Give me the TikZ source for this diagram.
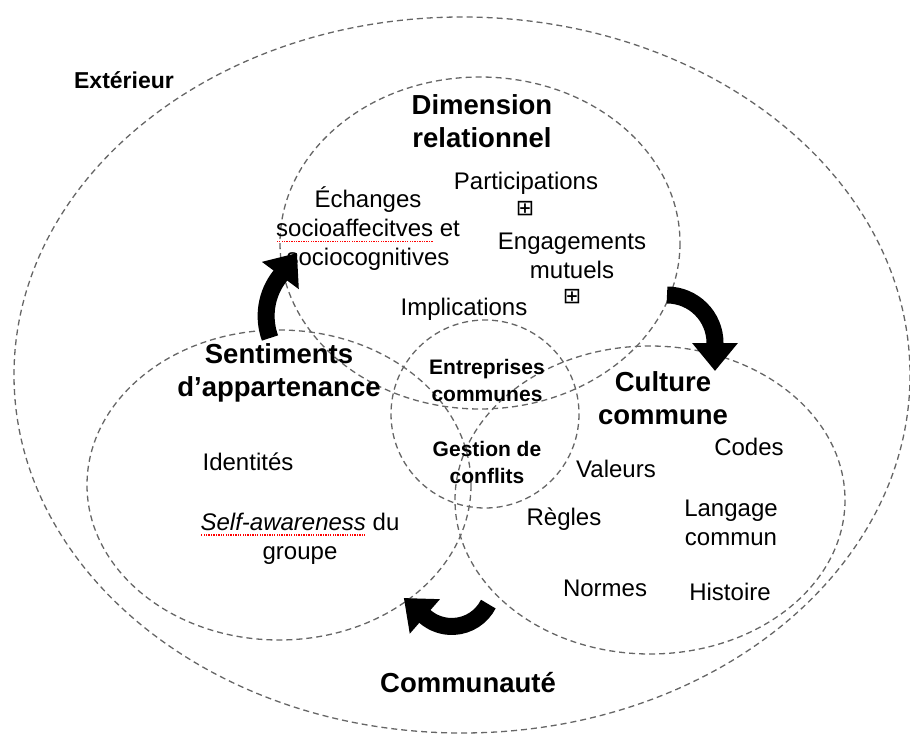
\documentclass[tikz,border=0pt]{standalone}
\usepackage{fontspec}
\setmainfont{Liberation Sans}
\newfontfamily\symfont{DejaVu Sans}
\usetikzlibrary{arrows.meta}

\newcommand{\spellmark}[1]{%
  \setbox0\hbox{#1}%
  \rlap{\color{red}\raisebox{-5pt}{\hbox to \wd0{\xleaders\hbox to 2.4pt{\hss\rule{1.3pt}{1.3pt}\hss}\hfill}}}%
  \box0\relax}

\tikzset{
  venn/.style={draw=black!60, dash pattern=on 6pt off 4pt, line width=1.3pt},
  word/.style={font=\fontsize{24}{29}\selectfont, align=center, inner sep=0pt},
  head/.style={font=\fontsize{27.5}{33}\selectfont\bfseries, align=center, inner sep=0pt},
  core/.style={font=\fontsize{21}{27}\selectfont\bfseries, align=center, inner sep=0pt},
  outside/.style={font=\fontsize{23}{27}\selectfont\bfseries, inner sep=0pt},
  plusbox/.style={font=\symfont\fontsize{22}{22}\selectfont, inner sep=0pt},
  loopy/.style={line width=17pt, -{Triangle[length=28pt,width=44pt]}}
}

\begin{document}
\begin{tikzpicture}[x=1pt, y=-1pt]
    \useasboundingbox (0,0) rectangle (910,738);

    \draw [venn] (462,375) ellipse [x radius=448, y radius=358];
    \draw [venn] (480,243) ellipse [x radius=200, y radius=166];
    \draw [venn] (279,485) ellipse [x radius=192, y radius=155];
    \draw [venn] (650,500) ellipse [x radius=195, y radius=154];
    \draw [venn] (485,414) circle [radius=94];

    \path (124,80) node [outside] (ext) {Extérieur};

    \path (482,121) node [head] (dim) {Dimension\\relationnel};
    \path (526,183) node [word] (part) {Participations};
    \path (525,209) node [plusbox] (plusa) {⊞};
    \path (368,229) node [word] (ech) {Échanges\\\spellmark{socioaffecitves} et\\sociocognitives};
    \path (572,256) node [word] (eng) {Engagements\\mutuels};
    \path (572,297) node [plusbox] (plusb) {⊞};
    \path (464,309) node [word] (impl) {Implications};

    \path (279,373) node [head] (sent) {Sentiments\\d’appartenance};
    \path (248,462) node [word] (ident) {Identités};
    \path (300,539) node [word] (self) {\spellmark{\itshape Self-awareness} du\\groupe};

    \path (487,380) node [core] (entr) {Entreprises\\communes};
    \path (487,462) node [core] (gest) {Gestion de\\conflits};

    \path (663,398) node [head] (cult) {Culture\\commune};
    \path (749,447) node [word] (codes) {Codes};
    \path (616,469) node [word] (val) {Valeurs};
    \path (564,519) node [word] (regl) {Règles};
    \path (731,523) node [word] (lang) {Langage\\commun};
    \path (605,588) node [word] (norm) {Normes};
    \path (730,592) node [word] (hist) {Histoire};

    \path (468,683) node [head] (comm) {Communauté};

    \draw [loopy] (270,338) arc [start angle=160, end angle=218, radius=64.4] -- (297,253);
    \draw [loopy] (667,295) arc [start angle=-90, end angle=0, radius=48] -- (715,371);
    \draw [loopy] (488.3,604.1) arc [start angle=27, end angle=131, radius=41] -- (403.8,598);
\end{tikzpicture}
\end{document}
